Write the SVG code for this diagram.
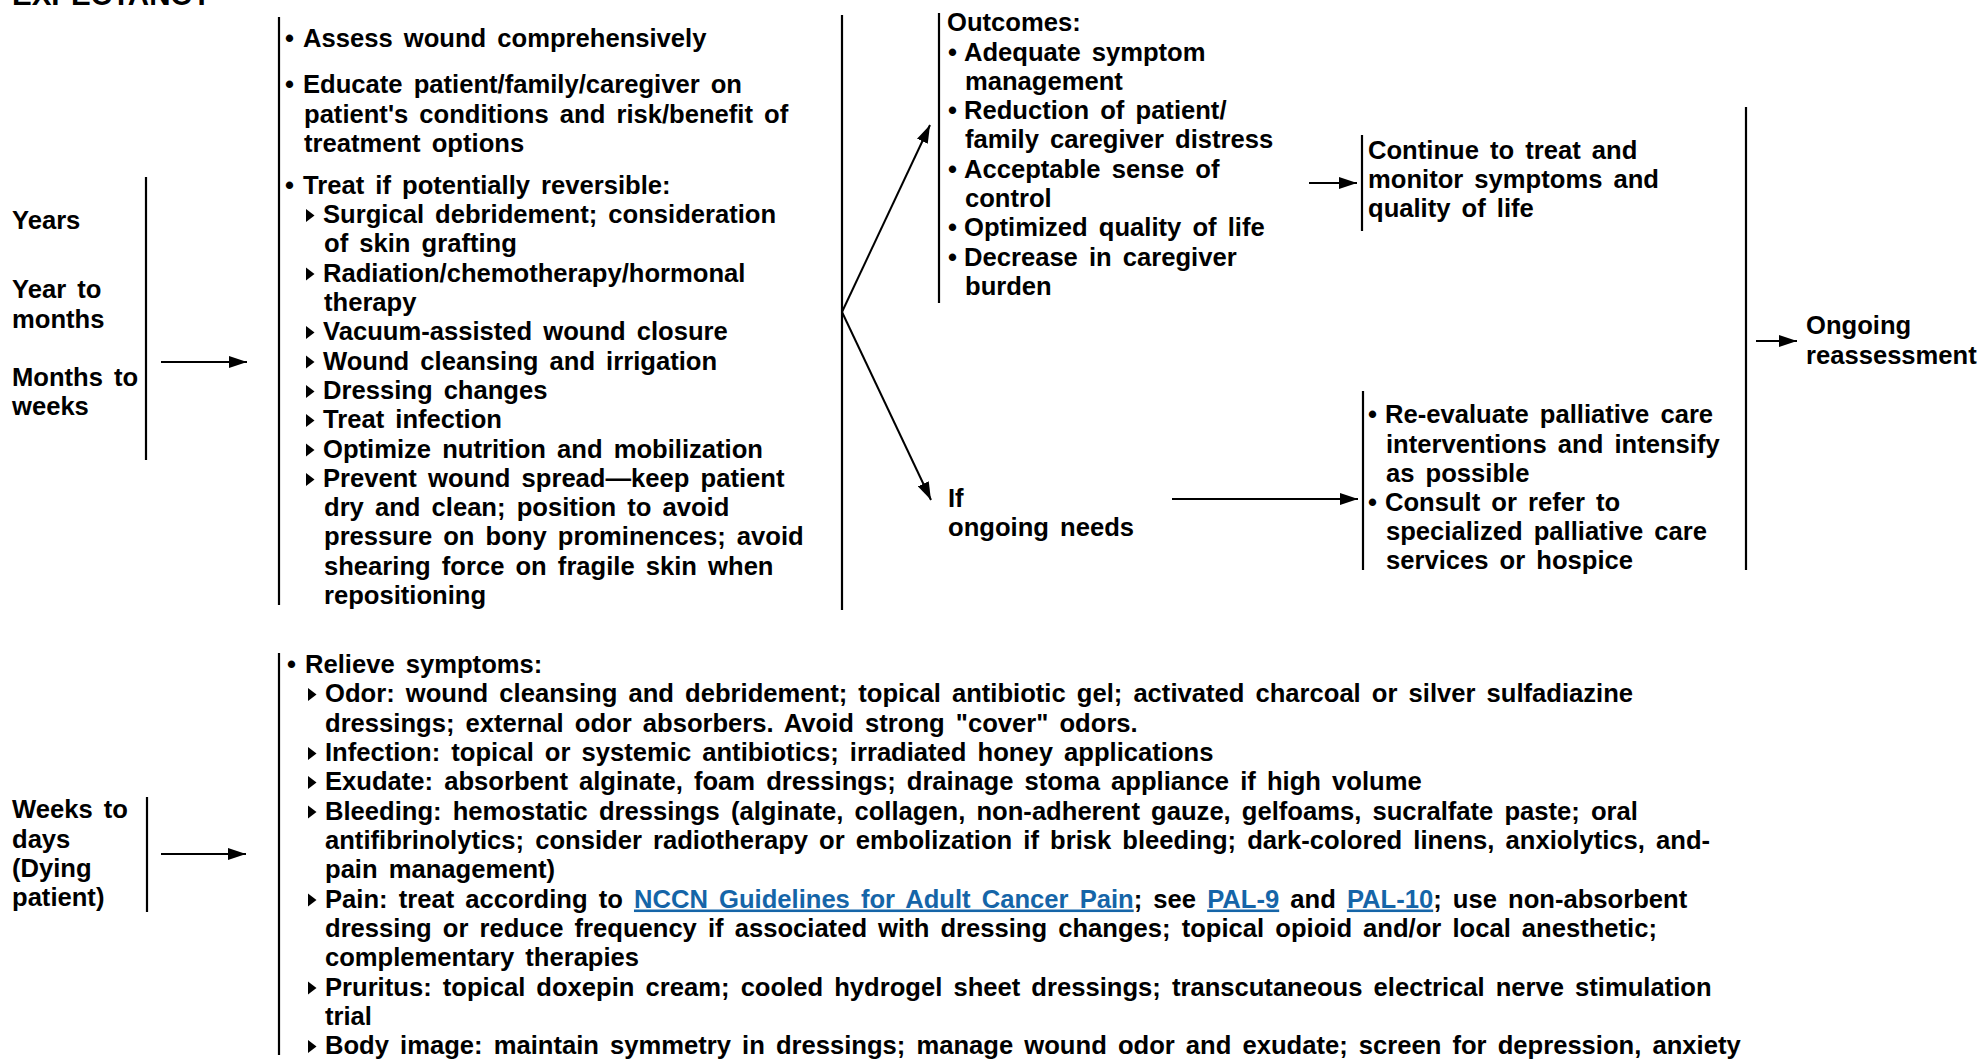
<svg xmlns="http://www.w3.org/2000/svg" width="1982" height="1060" viewBox="0 0 1982 1060">
  <style>
    .t { font-family: "Liberation Sans", Arial, sans-serif; font-weight: bold; font-size: 25.6px; word-spacing: 4px; fill: #000; }
    .h { font-family: "Liberation Sans", Arial, sans-serif; font-weight: bold; font-size: 29.5px; fill: #000; }
    .link { fill: #1565a8; text-decoration: underline; }
    .bar { stroke: #000; stroke-width: 2.2; fill: none; }
    .edge { stroke: #000; stroke-width: 2; fill: none; marker-end: url(#head); }
  </style>
  <defs>
    <marker id="head" markerUnits="userSpaceOnUse" markerWidth="18" markerHeight="12" refX="18" refY="6" orient="auto">
      <path d="M0,0 L18,6 L0,12 z" fill="#000"/>
    </marker>
    <!-- small right-pointing sub-bullet, anchored on the text baseline -->
    <polygon id="tri" points="0,-14 8.5,-7.5 0,-1" fill="#000"/>
  </defs>

  <rect width="1982" height="1060" fill="#fff"/>

  <!-- page heading, mostly above the top edge -->
  <g id="heading">
    <text class="h" x="12" y="5">EXPECTANCY</text>
  </g>

  <!-- prognosis: years to weeks -->
  <g id="prognosis-long">
    <line class="bar" x1="146" y1="177" x2="146" y2="460"/>
    <text class="t">
      <tspan x="12" y="229">Years</tspan>
      <tspan x="12" y="298">Year to</tspan>
      <tspan x="12" y="328">months</tspan>
      <tspan x="12" y="386">Months to</tspan>
      <tspan x="12" y="415">weeks</tspan>
    </text>
  </g>

  <!-- interventions column -->
  <g id="interventions">
    <line class="bar" x1="279" y1="17" x2="279" y2="605"/>
    <text class="t">
      <tspan x="285" y="47">•</tspan><tspan x="303" y="47">Assess wound comprehensively</tspan>
      <tspan x="285" y="93">•</tspan><tspan x="303" y="93">Educate patient/family/caregiver on</tspan>
      <tspan x="304" y="122.5">patient's conditions and risk/benefit of</tspan>
      <tspan x="304" y="152">treatment options</tspan>
      <tspan x="285" y="194">•</tspan><tspan x="303" y="194">Treat if potentially reversible:</tspan>
      <tspan x="323" y="223">Surgical debridement; consideration</tspan>
      <tspan x="324" y="252">of skin grafting</tspan>
      <tspan x="323" y="281.5">Radiation/chemotherapy/hormonal</tspan>
      <tspan x="324" y="311">therapy</tspan>
      <tspan x="323" y="340">Vacuum-assisted wound closure</tspan>
      <tspan x="323" y="369.5">Wound cleansing and irrigation</tspan>
      <tspan x="323" y="399">Dressing changes</tspan>
      <tspan x="323" y="428">Treat infection</tspan>
      <tspan x="323" y="457.5">Optimize nutrition and mobilization</tspan>
      <tspan x="323" y="487">Prevent wound spread—keep patient</tspan>
      <tspan x="324" y="516">dry and clean; position to avoid</tspan>
      <tspan x="324" y="545">pressure on bony prominences; avoid</tspan>
      <tspan x="324" y="574.5">shearing force on fragile skin when</tspan>
      <tspan x="324" y="604">repositioning</tspan>
    </text>
    <use href="#tri" x="306" y="223"/>
    <use href="#tri" x="306" y="281.5"/>
    <use href="#tri" x="306" y="340"/>
    <use href="#tri" x="306" y="369.5"/>
    <use href="#tri" x="306" y="399"/>
    <use href="#tri" x="306" y="428"/>
    <use href="#tri" x="306" y="457.5"/>
    <use href="#tri" x="306" y="487"/>
  </g>

  <!-- split point for the two outcomes -->
  <g id="split">
    <line class="bar" x1="842" y1="15" x2="842" y2="610"/>
  </g>

  <!-- outcomes -->
  <g id="outcomes">
    <line class="bar" x1="939" y1="13" x2="939" y2="303"/>
    <text class="t">
      <tspan x="947" y="31">Outcomes:</tspan>
      <tspan x="948" y="60.5">•</tspan><tspan x="964" y="60.5">Adequate symptom</tspan>
      <tspan x="965" y="90">management</tspan>
      <tspan x="948" y="119">•</tspan><tspan x="964" y="119">Reduction of patient/</tspan>
      <tspan x="965" y="148">family caregiver distress</tspan>
      <tspan x="948" y="177.5">•</tspan><tspan x="964" y="177.5">Acceptable sense of</tspan>
      <tspan x="965" y="207">control</tspan>
      <tspan x="948" y="236">•</tspan><tspan x="964" y="236">Optimized quality of life</tspan>
      <tspan x="948" y="265.5">•</tspan><tspan x="964" y="265.5">Decrease in caregiver</tspan>
      <tspan x="965" y="295">burden</tspan>
    </text>
  </g>

  <!-- continue treatment -->
  <g id="continue">
    <line class="bar" x1="1362" y1="135" x2="1362" y2="231"/>
    <text class="t">
      <tspan x="1368" y="159">Continue to treat and</tspan>
      <tspan x="1368" y="188">monitor symptoms and</tspan>
      <tspan x="1368" y="217">quality of life</tspan>
    </text>
  </g>

  <!-- ongoing needs -->
  <g id="ongoing-needs">
    <text class="t">
      <tspan x="948" y="507">If</tspan>
      <tspan x="948" y="536">ongoing needs</tspan>
    </text>
  </g>

  <!-- re-evaluation -->
  <g id="reevaluate">
    <line class="bar" x1="1363" y1="391" x2="1363" y2="570"/>
    <text class="t">
      <tspan x="1368" y="423">•</tspan><tspan x="1385" y="423">Re-evaluate palliative care</tspan>
      <tspan x="1386" y="453">interventions and intensify</tspan>
      <tspan x="1386" y="482">as possible</tspan>
      <tspan x="1368" y="511">•</tspan><tspan x="1385" y="511">Consult or refer to</tspan>
      <tspan x="1386" y="540">specialized palliative care</tspan>
      <tspan x="1386" y="569">services or hospice</tspan>
    </text>
  </g>

  <!-- ongoing reassessment -->
  <g id="reassessment">
    <line class="bar" x1="1746" y1="107" x2="1746" y2="570"/>
    <text class="t">
      <tspan x="1806" y="334">Ongoing</tspan>
      <tspan x="1806" y="364">reassessment</tspan>
    </text>
  </g>

  <!-- prognosis: weeks to days -->
  <g id="prognosis-dying">
    <line class="bar" x1="147" y1="797" x2="147" y2="912"/>
    <text class="t">
      <tspan x="12" y="818">Weeks to</tspan>
      <tspan x="12" y="848">days</tspan>
      <tspan x="12" y="877">(Dying</tspan>
      <tspan x="12" y="906">patient)</tspan>
    </text>
  </g>

  <!-- symptom relief -->
  <g id="relieve">
    <line class="bar" x1="279" y1="653" x2="279" y2="1055"/>
    <text class="t">
      <tspan x="287" y="673">•</tspan><tspan x="305" y="673">Relieve symptoms:</tspan>
      <tspan x="325" y="702">Odor: wound cleansing and debridement; topical antibiotic gel; activated charcoal or silver sulfadiazine</tspan>
      <tspan x="325" y="731.5">dressings; external odor absorbers. Avoid strong "cover" odors.</tspan>
      <tspan x="325" y="761">Infection: topical or systemic antibiotics; irradiated honey applications</tspan>
      <tspan x="325" y="790">Exudate: absorbent alginate, foam dressings; drainage stoma appliance if high volume</tspan>
      <tspan x="325" y="819.5">Bleeding: hemostatic dressings (alginate, collagen, non-adherent gauze, gelfoams, sucralfate paste; oral</tspan>
      <tspan x="325" y="849">antifibrinolytics; consider radiotherapy or embolization if brisk bleeding; dark-colored linens, anxiolytics, and-</tspan>
      <tspan x="325" y="878">pain management)</tspan>
      <tspan x="325" y="907.5">Pain: treat according to <tspan class="link">NCCN Guidelines for Adult Cancer Pain</tspan>; see <tspan class="link">PAL-9</tspan> and <tspan class="link">PAL-10</tspan>; use non-absorbent</tspan>
      <tspan x="325" y="937">dressing or reduce frequency if associated with dressing changes; topical opioid and/or local anesthetic;</tspan>
      <tspan x="325" y="966">complementary therapies</tspan>
      <tspan x="325" y="995.5">Pruritus: topical doxepin cream; cooled hydrogel sheet dressings; transcutaneous electrical nerve stimulation</tspan>
      <tspan x="325" y="1024.5">trial</tspan>
      <tspan x="325" y="1054">Body image: maintain symmetry in dressings; manage wound odor and exudate; screen for depression, anxiety</tspan>
    </text>
    <use href="#tri" x="308" y="702"/>
    <use href="#tri" x="308" y="761"/>
    <use href="#tri" x="308" y="790"/>
    <use href="#tri" x="308" y="819.5"/>
    <use href="#tri" x="308" y="907.5"/>
    <use href="#tri" x="308" y="995.5"/>
    <use href="#tri" x="308" y="1054"/>
  </g>

  <!-- connectors -->
  <g id="connectors">
    <line class="edge" x1="161" y1="362" x2="247" y2="362"/>
    <line class="edge" x1="161" y1="854" x2="246" y2="854"/>
    <line class="edge" x1="842" y1="312" x2="930" y2="125"/>
    <line class="edge" x1="842" y1="312" x2="931" y2="500"/>
    <line class="edge" x1="1309" y1="183" x2="1357" y2="183"/>
    <line class="edge" x1="1172" y1="499" x2="1358" y2="499"/>
    <line class="edge" x1="1756" y1="341" x2="1797" y2="341"/>
  </g>
</svg>
